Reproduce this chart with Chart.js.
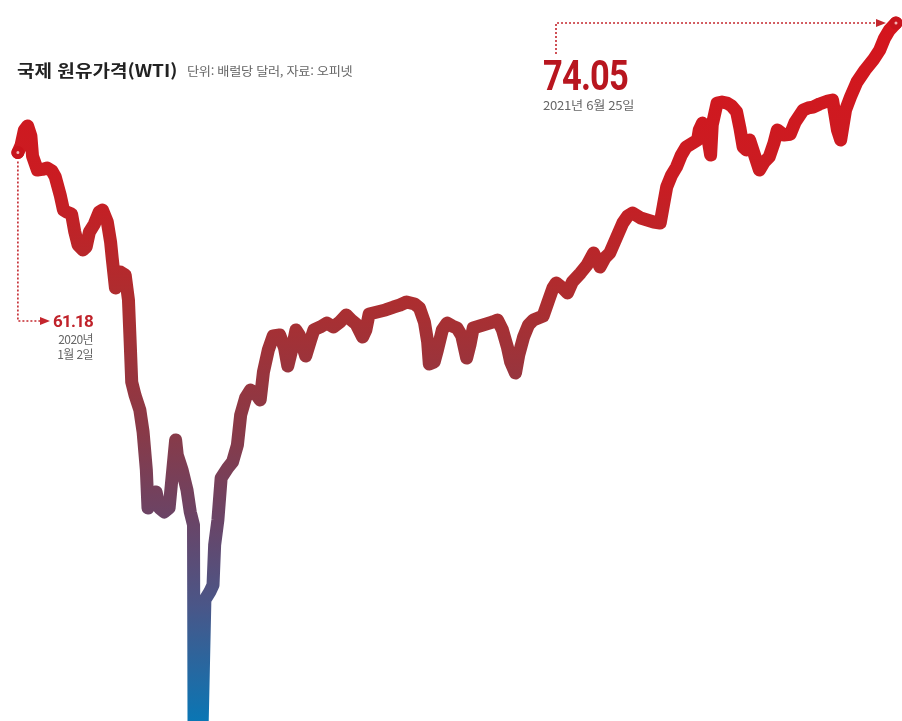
<!DOCTYPE html>
<html lang="ko">
<head>
    <meta charset="UTF-8">
    <title>국제 원유가격(WTI)</title>
    <style>
        body {
            margin: 0;
            background: #fff;
            font-family: "Noto Sans CJK KR", "Noto Sans", sans-serif;
        }
        #wrap {
            position: relative;
            width: 902px;
            height: 721px;
            overflow: hidden;
        }
        .txt {
            position: absolute;
            white-space: nowrap;
            line-height: 1;
            transform-origin: left top;
        }
        #title {
            left: 17px;
            top: 61px;
            font-size: 17px;
            font-weight: 700;
            color: #222;
            transform: scaleX(1.12);
        }
        #unit {
            left: 187px;
            top: 65px;
            font-size: 12px;
            color: #666;
            letter-spacing: -0.3px;
            transform: scaleX(1.1);
        }
        #endVal {
            left: 543px;
            top: 55px;
            font-family: Roboto, sans-serif;
            font-size: 42px;
            font-weight: 700;
            color: #b8161f;
            letter-spacing: -1px;
            transform: scaleX(0.82);
        }
        #endDate {
            left: 543px;
            top: 99px;
            font-size: 12px;
            color: #666;
            letter-spacing: -0.3px;
            transform: scaleX(1.1);
        }
        #startVal, #startYear, #startDay {
            right: 809px;
            text-align: right;
            transform-origin: right top;
        }
        #startVal {
            top: 313px;
            font-family: Roboto, sans-serif;
            font-size: 17px;
            font-weight: 700;
            color: #c0222a;
            letter-spacing: -0.8px;
        }
        #startYear {
            top: 333px;
            font-size: 12px;
            color: #666;
            letter-spacing: -0.6px;
        }
        #startDay {
            top: 348px;
            font-size: 12px;
            color: #666;
            letter-spacing: -0.6px;
        }
    </style>
</head>
<body>
    <div id="wrap">
        <canvas id="myChart"></canvas>
        <div class="txt" id="title">국제 원유가격(WTI)</div>
        <div class="txt" id="unit">단위: 배럴당 달러, 자료: 오피넷</div>
        <div class="txt" id="endVal">74.05</div>
        <div class="txt" id="endDate">2021년 6월 25일</div>
        <div class="txt" id="startVal">61.18</div>
        <div class="txt" id="startYear">2020년</div>
        <div class="txt" id="startDay">1월 2일</div>
    </div>

    <script src="https://cdn.jsdelivr.net/npm/chart.js"></script>
    <script>
        // days counted from 2020-01-02
        const days = [
            0, 2, 4, 6, 8, 9, 12, 15, 18, 21, 23, 26, 28, 30, 33, 35, 37, 40, 42, 44,
            47, 50, 52, 55, 57, 58, 60, 63, 66, 68, 69, 70, 72, 75, 77, 79, 80, 82, 85, 87,
            90, 93, 97, 98, 101, 104, 106, 108, 109, 113, 115, 118, 120, 121, 123, 125, 129, 132, 135, 137,
            140, 143, 146, 149, 151, 154, 157, 161, 164, 166, 169, 171, 173, 177, 180, 182, 186, 190, 194, 198,
            202, 205, 208, 212, 214, 216, 221, 226, 231, 235, 239, 244, 247, 250, 252, 253, 256, 258, 261, 264,
            267, 270, 273, 276, 278, 280, 284, 288, 292, 295, 298, 301, 303, 306, 308, 311, 314, 317, 320, 323,
            326, 329, 331, 335, 338, 341, 346, 350, 354, 356, 358, 361, 364, 368, 372, 375, 378, 383, 387, 391,
            395, 397, 399, 402, 405, 408, 411, 415, 418, 419, 421, 424, 426, 427, 430, 433, 436, 439, 442, 444,
            446, 448, 450, 453, 456, 459, 462, 465, 467, 471, 475, 478, 483, 486, 489, 493, 498, 501, 504, 506,
            509, 512, 516, 521, 526, 530, 533, 536, 540
        ];

        // WTI, dollars per barrel
        const prices = [
            61.18, 61.93, 63.42, 63.82, 62.82, 60.83, 59.44, 59.50, 59.64, 59.34,
            58.75, 56.96, 55.47, 55.27, 55.07, 53.28, 51.99, 51.49, 51.79, 53.28,
            54.07, 55.27, 55.47, 54.27, 52.29, 50.69, 47.71, 49.30, 49.00, 46.52,
            42.54, 38.37, 37.08, 35.59, 33.40, 29.62, 25.84, 26.64, 27.44, 25.84,
            25.45, 25.84, 32.60, 31.11, 29.62, 27.63, 25.45, 24.15, -37.63, 2.00,
            16.70, 17.50, 18.19, 22.17, 24.65, 28.83, 29.82, 30.42, 32.11, 35.09,
            36.78, 37.57, 37.28, 36.58, 39.36, 41.55, 42.94, 43.04, 41.75, 39.96,
            41.95, 43.54, 43.04, 40.95, 42.54, 43.54, 43.84, 44.23, 43.84, 44.33,
            45.03, 44.53, 44.13, 42.84, 43.54, 45.13, 45.33, 45.53, 45.82, 46.02,
            46.32, 46.12, 45.72, 44.33, 42.34, 40.16, 40.36, 41.55, 43.54, 44.23,
            43.94, 43.74, 42.94, 40.75, 42.05, 43.74, 43.94, 44.13, 44.33, 44.53,
            43.54, 41.85, 40.36, 39.26, 41.05, 42.84, 44.03, 44.53, 44.73, 44.93,
            46.32, 47.71, 48.21, 47.71, 47.22, 48.31, 49.20, 50.00, 51.19, 50.50,
            49.80, 50.70, 51.19, 52.68, 54.17, 54.87, 55.17, 54.67, 54.47, 54.27,
            54.17, 55.96, 57.75, 58.94, 59.74, 60.93, 61.73, 62.13, 62.42, 63.42,
            64.11, 62.92, 60.93, 63.92, 66.10, 66.20, 66.10, 65.80, 65.21, 63.62,
            61.73, 61.43, 62.42, 60.93, 59.44, 60.24, 60.73, 62.13, 63.42, 62.92,
            63.00, 64.21, 65.41, 65.61, 65.70, 66.00, 66.30, 66.40, 63.42, 62.42,
            65.41, 66.70, 68.19, 69.38, 70.38, 71.37, 72.56, 73.36, 74.05
        ];

        const lastIdx = prices.length - 1;

        function lineGradient(context) {
            const chart = context.chart;
            const area = chart.chartArea;
            if (!area) return '#c8141c';
            const g = chart.ctx.createLinearGradient(0, area.top, 0, area.bottom);
            g.addColorStop(0, 'rgb(214,20,28)');
            g.addColorStop(0.25, 'rgb(202,28,34)');
            g.addColorStop(0.42, 'rgb(172,46,48)');
            g.addColorStop(0.6, 'rgb(136,58,72)');
            g.addColorStop(0.72, 'rgb(106,68,102)');
            g.addColorStop(0.84, 'rgb(74,86,136)');
            g.addColorStop(1, 'rgb(10,118,180)');
            return g;
        }

        // dotted leader lines with arrow heads from the first and last points
        const leaders = {
            id: 'leaders',
            afterDatasetsDraw(chart) {
                const ctx = chart.ctx;
                const xs = chart.scales.x, ys = chart.scales.y;
                const x0 = xs.getPixelForValue(days[0]);
                const y0 = ys.getPixelForValue(prices[0]);
                const x1 = xs.getPixelForValue(days[lastIdx]);
                const y1 = ys.getPixelForValue(prices[lastIdx]);

                ctx.save();
                ctx.strokeStyle = '#c4262d';
                ctx.fillStyle = '#c4262d';
                ctx.lineWidth = 1.6;
                ctx.setLineDash([2, 2]);

                // start: down then right
                ctx.beginPath();
                ctx.moveTo(x0, y0 + 9);
                ctx.lineTo(x0, 321);
                ctx.lineTo(41, 321);
                ctx.stroke();

                // end: from label up then right
                ctx.beginPath();
                ctx.moveTo(556, 54);
                ctx.lineTo(556, y1);
                ctx.lineTo(x1 - 18, y1);
                ctx.stroke();

                ctx.setLineDash([]);
                ctx.beginPath();
                ctx.moveTo(40, 317);
                ctx.lineTo(50, 321);
                ctx.lineTo(40, 325);
                ctx.closePath();
                ctx.fill();

                ctx.beginPath();
                ctx.moveTo(x1 - 20, y1 - 4);
                ctx.lineTo(x1 - 10, y1);
                ctx.lineTo(x1 - 20, y1 + 4);
                ctx.closePath();
                ctx.fill();
                ctx.restore();
            }
        };

        const ctx = document.getElementById('myChart').getContext('2d');
        const myChart = new Chart(ctx, {
            type: 'line',
            data: {
                datasets: [{
                    label: 'WTI',
                    data: days.map((d, i) => ({ x: d, y: prices[i] })),
                    borderColor: lineGradient,
                    borderWidth: 13,
                    borderJoinStyle: 'round',
                    borderCapStyle: 'round',
                    tension: 0,
                    fill: false,
                    pointRadius: prices.map((v, i) => (i === 0 || i === lastIdx) ? 4 : 0),
                    pointHoverRadius: 0,
                    pointBackgroundColor: '#f6b3b3',
                    pointBorderColor: '#c8141c',
                    pointBorderWidth: 5
                }]
            },
            options: {
                responsive: true,
                maintainAspectRatio: false,
                animation: false,
                layout: { padding: 0, autoPadding: false },
                plugins: {
                    legend: { display: false },
                    tooltip: { enabled: false }
                },
                scales: {
                    x: {
                        type: 'linear',
                        display: false,
                        min: -11,
                        max: 543.7
                    },
                    y: {
                        display: false,
                        min: 4.67,
                        max: 76.34
                    }
                }
            },
            plugins: [leaders]
        });
    </script>
</body>
</html>
